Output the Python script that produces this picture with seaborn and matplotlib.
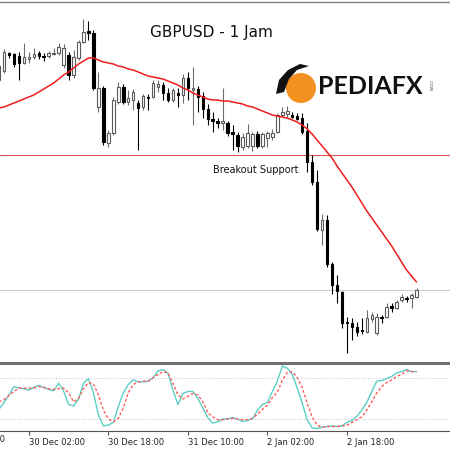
import numpy as np
import pandas as pd
import matplotlib
matplotlib.use("Agg")
import matplotlib.pyplot as plt
import seaborn as sns
from matplotlib.patches import Circle, Polygon
from matplotlib.transforms import blended_transform_factory

# GBPUSD H1 candles
open_ = [1.2620, 1.2629, 1.2647, 1.2646, 1.2644, 1.2637, 1.2641, 1.2643, 1.2647, 1.2644,
         1.2644, 1.2646, 1.2647, 1.2635, 1.2645, 1.2625, 1.2642, 1.2658, 1.2669, 1.2667,
         1.2593, 1.2612, 1.2557, 1.2567, 1.2598, 1.2613, 1.2598, 1.2600, 1.2597, 1.2593,
         1.2603, 1.2603, 1.2613, 1.2615, 1.2607, 1.2600, 1.2607, 1.2605, 1.2622, 1.2610,
         1.2611, 1.2604, 1.2591, 1.2581, 1.2579, 1.2577, 1.2577, 1.2568, 1.2565, 1.2553,
         1.2554, 1.2554, 1.2566, 1.2554, 1.2562, 1.2563, 1.2568, 1.2585, 1.2586, 1.2585,
         1.2584, 1.2582, 1.2569, 1.2538, 1.2518, 1.2470, 1.2480, 1.2436, 1.2415, 1.2408,
         1.2378, 1.2377, 1.2373, 1.2370, 1.2368, 1.2381, 1.2367, 1.2383, 1.2383, 1.2394,
         1.2392, 1.2400, 1.2402, 1.2402, 1.2403]
high = [1.2636, 1.2651, 1.2648, 1.2647, 1.2648, 1.2657, 1.2648, 1.2652, 1.2649, 1.2647,
        1.2649, 1.2652, 1.2657, 1.2656, 1.2648, 1.2650, 1.2660, 1.2681, 1.2679, 1.2670,
        1.2628, 1.2614, 1.2570, 1.2603, 1.2618, 1.2616, 1.2610, 1.2611, 1.2600, 1.2606,
        1.2606, 1.2620, 1.2620, 1.2618, 1.2612, 1.2612, 1.2612, 1.2626, 1.2628, 1.2633,
        1.2614, 1.2608, 1.2596, 1.2588, 1.2582, 1.2612, 1.2579, 1.2575, 1.2568, 1.2567,
        1.2576, 1.2568, 1.2569, 1.2568, 1.2569, 1.2571, 1.2587, 1.2593, 1.2594, 1.2588,
        1.2587, 1.2587, 1.2577, 1.2545, 1.2530, 1.2486, 1.2485, 1.2438, 1.2425, 1.2409,
        1.2383, 1.2382, 1.2378, 1.2382, 1.2390, 1.2388, 1.2387, 1.2385, 1.2397, 1.2397,
        1.2400, 1.2406, 1.2404, 1.2407, 1.2412]
low = [1.2618, 1.2627, 1.2642, 1.2633, 1.2620, 1.2636, 1.2637, 1.2641, 1.2641, 1.2639,
       1.2642, 1.2645, 1.2645, 1.2632, 1.2620, 1.2622, 1.2640, 1.2657, 1.2660, 1.2610,
       1.2588, 1.2555, 1.2553, 1.2565, 1.2596, 1.2596, 1.2595, 1.2590, 1.2550, 1.2590,
       1.2590, 1.2602, 1.2608, 1.2600, 1.2598, 1.2598, 1.2593, 1.2597, 1.2600, 1.2575,
       1.2588, 1.2582, 1.2575, 1.2568, 1.2572, 1.2570, 1.2564, 1.2550, 1.2548, 1.2550,
       1.2552, 1.2549, 1.2552, 1.2552, 1.2553, 1.2560, 1.2567, 1.2583, 1.2583, 1.2582,
       1.2580, 1.2566, 1.2528, 1.2515, 1.2469, 1.2455, 1.2433, 1.2406, 1.2397, 1.2372,
       1.2347, 1.2360, 1.2364, 1.2366, 1.2367, 1.2378, 1.2365, 1.2377, 1.2382, 1.2388,
       1.2391, 1.2398, 1.2398, 1.2392, 1.2402]
close = [1.2634, 1.2648, 1.2645, 1.2636, 1.2637, 1.2643, 1.2643, 1.2646, 1.2644, 1.2643,
         1.2647, 1.2647, 1.2653, 1.2652, 1.2625, 1.2643, 1.2658, 1.2668, 1.2667, 1.2612,
         1.2612, 1.2558, 1.2567, 1.2600, 1.2613, 1.2598, 1.2602, 1.2608, 1.2592, 1.2604,
         1.2602, 1.2617, 1.2616, 1.2607, 1.2600, 1.2610, 1.2605, 1.2622, 1.2612, 1.2612,
         1.2603, 1.2591, 1.2581, 1.2579, 1.2577, 1.2579, 1.2567, 1.2566, 1.2554, 1.2563,
         1.2567, 1.2566, 1.2554, 1.2566, 1.2567, 1.2567, 1.2585, 1.2588, 1.2589, 1.2583,
         1.2581, 1.2568, 1.2538, 1.2518, 1.2471, 1.2480, 1.2436, 1.2415, 1.2409, 1.2377,
         1.2377, 1.2373, 1.2368, 1.2369, 1.2382, 1.2385, 1.2383, 1.2382, 1.2393, 1.2392,
         1.2398, 1.2403, 1.2401, 1.2405, 1.2410]

# red moving average
ma = [1.2592, 1.2593, 1.2595, 1.2597, 1.2599, 1.2601, 1.2603, 1.2605, 1.2608, 1.2611,
      1.2614, 1.2617, 1.2621, 1.2625, 1.2628, 1.2632, 1.2636, 1.2639, 1.2642, 1.2642,
      1.2640, 1.2638, 1.2637, 1.2636, 1.2634, 1.2633, 1.2631, 1.2630, 1.2628, 1.2626,
      1.2624, 1.2623, 1.2622, 1.2621, 1.2619, 1.2617, 1.2615, 1.2612, 1.2610, 1.2607,
      1.2605, 1.2603, 1.2601, 1.2600, 1.2600, 1.2599, 1.2599, 1.2598, 1.2597, 1.2596,
      1.2594, 1.2593, 1.2591, 1.2589, 1.2587, 1.2585, 1.2584, 1.2583, 1.2582, 1.2580,
      1.2578, 1.2575, 1.2571, 1.2566, 1.2560, 1.2554, 1.2548, 1.2542, 1.2534, 1.2527,
      1.2520, 1.2513, 1.2505, 1.2497, 1.2489, 1.2482, 1.2475, 1.2468, 1.2461, 1.2454,
      1.2446, 1.2438, 1.2430, 1.2424, 1.2418]

# stochastic sub window
stoch_main = [34, 44, 55, 67, 65, 64, 62, 66, 69, 66, 63, 61, 72, 61, 41, 39, 49, 72, 79, 58,
              26, 10, 11, 15, 38, 58, 70, 77, 74, 74, 75, 80, 90, 92, 87, 62, 41, 57, 60, 60,
              50, 36, 22, 14, 16, 20, 20, 22, 20, 16, 18, 20, 33, 41, 44, 60, 75, 97, 94, 85,
              65, 43, 19, 7, 6, 8, 9, 10, 9, 10, 15, 18, 24, 33, 44, 60, 75, 76, 79, 82,
              87, 89, 92, 89, 89]
stoch_signal = [45, 48, 54, 60, 65, 65, 65, 65, 67, 66, 64, 63, 64, 65, 58, 45, 50, 64, 73, 71,
                55, 33, 20, 16, 21, 36, 58, 70, 74, 75, 75, 80, 85, 89, 87, 72, 55, 49, 53, 57,
                55, 45, 29, 23, 19, 19, 20, 21, 20, 19, 19, 21, 27, 34, 40, 51, 59, 76, 88, 89,
                80, 66, 43, 23, 11, 8, 9, 9, 9, 10, 11, 15, 19, 23, 33, 45, 58, 67, 73, 77,
                82, 85, 90, 89, 89]

tick_pos = [6, 22, 38, 54, 70]
tick_labels = ["30 Dec 02:00", "30 Dec 18:00", "31 Dec 10:00", "2 Jan 02:00", "2 Jan 18:00"]
support = 1.2545
lower_line = 1.2410

sns.set_style("white")
plt.rcParams['font.family'] = ['DejaVu Sans']

W = 450.0
def fpx(x, y):
    return (x / W, 1 - y / W)

fig = plt.figure(figsize=(4.5, 4.5), dpi=100)
ax = fig.add_axes([0, 89 / W, 1, 359 / W])
ax2 = fig.add_axes([0, 19 / W, 1, 68 / W])

df = pd.DataFrame({"o": open_, "h": high, "l": low, "c": close, "ma": ma})
df["i"] = np.arange(len(df))
up = df[df.c >= df.o]
dn = df[df.c < df.o]

ax.axhline(support, color="#d65a5a", lw=0.8, zorder=1)
ax.axhline(lower_line, color="#cfcfcf", lw=0.8, zorder=1)

ax.vlines(up.i, up.l, up.h, color="#6e6e6e", lw=0.8, zorder=2)
ax.vlines(dn.i, dn.l, dn.h, color="black", lw=0.8, zorder=2)
ax.bar(up.i, np.maximum(up.c - up.o, 0.00006), bottom=up.o, width=0.5,
       color="white", edgecolor="#5a5a5a", linewidth=0.8, zorder=3)
ax.bar(dn.i, np.maximum(dn.o - dn.c, 0.00006), bottom=dn.c, width=0.5,
       color="black", edgecolor="black", linewidth=0.8, zorder=3)

sns.lineplot(data=df, x="i", y="ma", ax=ax, color="#f01c1c", linewidth=1.1, zorder=4)

ax.set_xlim(0.2, 90.74)
ax.set_ylim(1.2339, 1.2698)
ax.set_xticks([])
ax.set_yticks([])
ax.set_xlabel("")
ax.set_ylabel("")
for s in ["left", "right", "bottom"]:
    ax.spines[s].set_visible(False)
ax.spines["top"].set_color("#808080")
ax.spines["top"].set_linewidth(1.0)

# oscillator
osc = pd.DataFrame({"i": np.arange(len(stoch_main)), "main": stoch_main, "sig": stoch_signal})
ax2.axhline(80, color="#bdbdbd", lw=0.7, ls=(0, (1, 2)))
ax2.axhline(20, color="#bdbdbd", lw=0.7, ls=(0, (1, 2)))
sns.lineplot(data=osc, x="i", y="main", ax=ax2, color="#5ccfc4", linewidth=1.0)
sns.lineplot(data=osc, x="i", y="sig", ax=ax2, color="#ff5c5c", linewidth=1.0,
             linestyle=(0, (2, 1.5)))
ax2.set_xlim(0.2, 90.74)
ax2.set_ylim(2.5, 101.5)
ax2.set_yticks([])
ax2.set_xlabel("")
ax2.set_ylabel("")
ax2.set_xticks(tick_pos)
ax2.set_xticklabels(tick_labels, fontsize=6, ha="left", color="#222222")
ax2.tick_params(axis="x", bottom=True, length=3, width=0.8, color="#555555", pad=2)
for s in ["left", "right"]:
    ax2.spines[s].set_visible(False)
ax2.spines["top"].set_color("#6e6e6e")
ax2.spines["top"].set_linewidth(2.2)
ax2.spines["bottom"].set_color("#555555")
ax2.spines["bottom"].set_linewidth(0.8)
tr = blended_transform_factory(ax2.transData, ax2.transAxes)
ax2.text(-10, -0.06, "27 Dec 10:00", transform=tr, fontsize=6, ha="left", va="top",
         color="#222222", clip_on=False)

# title and annotation
fig.text(*fpx(150, 33), "GBPUSD - 1 Jam", fontsize=11, ha="left", va="center", color="#111111")
fig.text(*fpx(213, 170), "Breakout Support", fontsize=7, ha="left", va="center", color="#111111")

# logo
fig.patches.append(Circle(fpx(301, 88), 15 / W, transform=fig.transFigure,
                          facecolor="#f39020", edgecolor="none", zorder=5))
swoosh = [fpx(276, 94), fpx(279, 80), fpx(288, 70), fpx(300, 64), fpx(309, 66),
          fpx(297, 70), fpx(289, 79), fpx(284, 92)]
fig.patches.append(Polygon(swoosh, closed=True, transform=fig.transFigure,
                           facecolor="#111111", edgecolor="none", zorder=6))
fig.text(*fpx(318, 86), "PEDIAFX", fontsize=18, fontweight="bold", family="Lato",
         ha="left", va="center", color="#111111")
fig.text(*fpx(430, 85), ".COM", fontsize=3, rotation=-90, ha="center", va="center",
         color="#333333")

fig.savefig("out.png", dpi=100)
